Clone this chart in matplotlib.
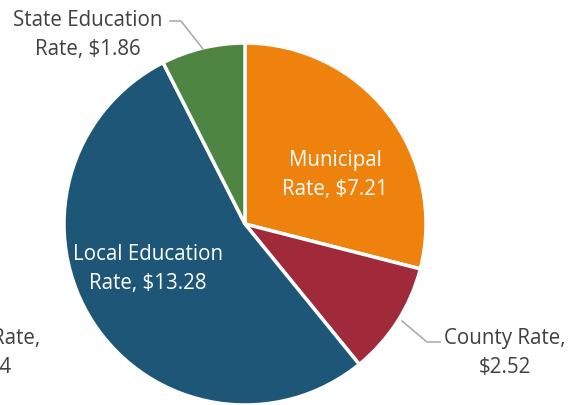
import matplotlib.pyplot as plt

labels = ["Municipal\nRate, $7.21", "County Rate,\n$2.52", "Local Education\nRate, $13.28", "State Education\nRate, $1.86"]
values = [7.21, 2.52, 13.28, 1.86]
colors = ["#EF820D", "#A02A3A", "#1D5677", "#4E8542"]

fig = plt.figure(figsize=(5.69, 4.06), dpi=100)
ax = fig.add_axes([0, 0, 1, 1])

ax.pie(values, colors=colors, startangle=90, counterclock=False,
       center=(245, 181), radius=181,
       wedgeprops=dict(edgecolor="white", linewidth=2.5))
ax.set_xlim(0, 569)
ax.set_ylim(0, 406)
ax.set_aspect("equal")
ax.axis("off")

font = dict(family="Open Sans", fontsize=14.8, ha="center", va="center", linespacing=1.45)
ax.text(335, 231, labels[0], color="white", **font)
ax.text(148, 137, labels[2], color="white", **font)
ax.text(88, 371, labels[3], color="#404040", **font)
ax.text(505, 53, labels[1], color="#404040", **font)
# label of a slice that falls outside the visible area
ax.text(-14, 53, "Other Rate,\n$0.04", color="#404040", **font)

ax.plot([170, 181, 203], [384, 384, 356], color="#A6A6A6", lw=1.1)
ax.plot([440, 427, 402], [63, 63, 84], color="#A6A6A6", lw=1.1)

fig.savefig("out.png", dpi=100)
